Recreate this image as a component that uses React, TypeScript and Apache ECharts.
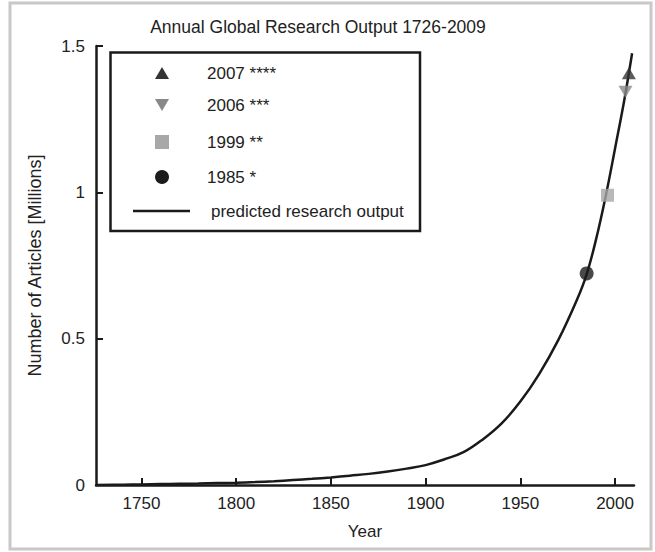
import React, { useEffect, useRef } from "react";
import * as echarts from "echarts";

const curveYears = [1726, 1740, 1750, 1760, 1770, 1780, 1790, 1800, 1810, 1820, 1830, 1840, 1850, 1860, 1870, 1880, 1890, 1900, 1910, 1920, 1930, 1940, 1950, 1960, 1970, 1980, 1985, 1990, 1995, 2000, 2005, 2009];
const curveValues = [0.0, 0.001, 0.002, 0.003, 0.004, 0.005, 0.0065, 0.008, 0.01, 0.013, 0.017, 0.021, 0.026, 0.032, 0.038, 0.046, 0.056, 0.068, 0.088, 0.112, 0.155, 0.21, 0.285, 0.38, 0.495, 0.635, 0.72, 0.84, 0.985, 1.15, 1.32, 1.475];

const point1985 = [1985, 0.723];
const point1999 = [1996, 0.99];
const point2006 = [2005.5, 1.344];
const point2007 = [2007.3, 1.407];

const xTickValues = [1750, 1800, 1850, 1900, 1950, 2000];
const legendLabels = ["2007 ****", "2006 ***", "1999 **", "1985 *", "predicted research output"];

const FONT = "Liberation Sans, Arial, Helvetica, sans-serif";

export default function App() {
  const ref = useRef<HTMLDivElement>(null);
  useEffect(() => {
    document.body.style.margin = "0";
    if (!ref.current) return;
    const chart = echarts.init(ref.current, null, { renderer: "svg" });
    const lineData = curveYears.map((y, i) => [y, curveValues[i]]);
    const rowY = [73, 105, 142, 177, 211];
    chart.setOption({
      animation: false,
      backgroundColor: "#fff",
      textStyle: { fontFamily: FONT },
      grid: { left: 96, right: 21, top: 46, bottom: 67, containLabel: false },
      xAxis: {
        type: "value",
        min: 1726,
        max: 2010,
        name: "Year",
        nameLocation: "middle",
        nameGap: 38,
        nameTextStyle: { fontSize: 17, color: "#222", fontFamily: FONT },
        axisLine: { show: true, onZero: false, lineStyle: { color: "#1a1a1a", width: 2.5 } },
        axisTick: { show: true, inside: true, length: 7, customValues: xTickValues, lineStyle: { color: "#1a1a1a", width: 2 } },
        axisLabel: {
          customValues: xTickValues,
          fontSize: 17,
          color: "#222",
          margin: 10,
          fontFamily: FONT,
          formatter: (v: number) => String(v),
        },
        splitLine: { show: false },
      },
      yAxis: {
        type: "value",
        min: 0,
        max: 1.5,
        interval: 0.5,
        name: "Number of Articles [Millions]",
        nameLocation: "middle",
        nameGap: 52,
        nameRotate: 90,
        nameTextStyle: { fontSize: 18, color: "#222", fontFamily: FONT },
        axisLine: { show: true, lineStyle: { color: "#1a1a1a", width: 2.5 } },
        axisTick: { show: true, inside: true, length: 7, lineStyle: { color: "#1a1a1a", width: 2 } },
        axisLabel: { fontSize: 17, color: "#222", margin: 11, fontFamily: FONT, formatter: (v: number) => String(v) },
        splitLine: { show: false },
      },
      series: [
        {
          type: "line",
          data: lineData,
          smooth: 0.4,
          showSymbol: false,
          lineStyle: { color: "#1a1a1a", width: 2.5 },
          z: 2,
        },
        {
          type: "scatter",
          data: [point1985],
          symbol: "circle",
          symbolSize: 14,
          itemStyle: { color: "#1c1c1c" },
          z: 3,
        },
        {
          type: "scatter",
          data: [point1999],
          symbol: "rect",
          symbolSize: 13,
          itemStyle: { color: "#a8a8a8" },
          z: 3,
        },
        {
          type: "scatter",
          data: [point2006],
          symbol: "triangle",
          symbolRotate: 180,
          symbolSize: [14, 12],
          itemStyle: { color: "#888888" },
          z: 3,
        },
        {
          type: "scatter",
          data: [point2007],
          symbol: "triangle",
          symbolSize: [14, 12],
          itemStyle: { color: "#333333" },
          z: 4,
        },
      ],
      graphic: [
        {
          type: "rect",
          shape: { x: 10, y: 3, width: 641, height: 546 },
          style: { fill: "none", stroke: "#c8c8c8", lineWidth: 3 },
          silent: true,
        },
        {
          type: "text",
          x: 318,
          y: 27,
          style: {
            text: "Annual Global Research Output 1726-2009",
            fontSize: 17.5,
            fontFamily: FONT,
            fill: "#222",
            textAlign: "center",
            textVerticalAlign: "middle",
          },
        },
        {
          type: "rect",
          shape: { x: 110.5, y: 52.5, width: 309.5, height: 178.5 },
          style: { fill: "#fff", stroke: "#1a1a1a", lineWidth: 2.5 },
          z: 10,
        },
        {
          type: "polygon",
          shape: { points: [[155, 79], [169, 79], [162, 67]] },
          style: { fill: "#333333" },
          z: 11,
        },
        {
          type: "polygon",
          shape: { points: [[155, 99], [169, 99], [162, 111]] },
          style: { fill: "#888888" },
          z: 11,
        },
        {
          type: "rect",
          shape: { x: 155, y: 135, width: 14, height: 14 },
          style: { fill: "#a8a8a8" },
          z: 11,
        },
        {
          type: "circle",
          shape: { cx: 162, cy: 177, r: 7 },
          style: { fill: "#1c1c1c" },
          z: 11,
        },
        {
          type: "line",
          shape: { x1: 133, y1: 211, x2: 190, y2: 211 },
          style: { stroke: "#1a1a1a", lineWidth: 2.5 },
          z: 11,
        },
        ...legendLabels.map((t, i) => ({
          type: "text",
          x: i === 4 ? 211 : 207,
          y: rowY[i],
          z: 11,
          style: {
            text: t,
            fontSize: 17,
            fontFamily: FONT,
            fill: "#222",
            textAlign: "left",
            textVerticalAlign: "middle",
          },
        })),
      ],
    });
    return () => chart.dispose();
  }, []);
  return <div ref={ref} style={{ width: 655, height: 552 }} />;
}
